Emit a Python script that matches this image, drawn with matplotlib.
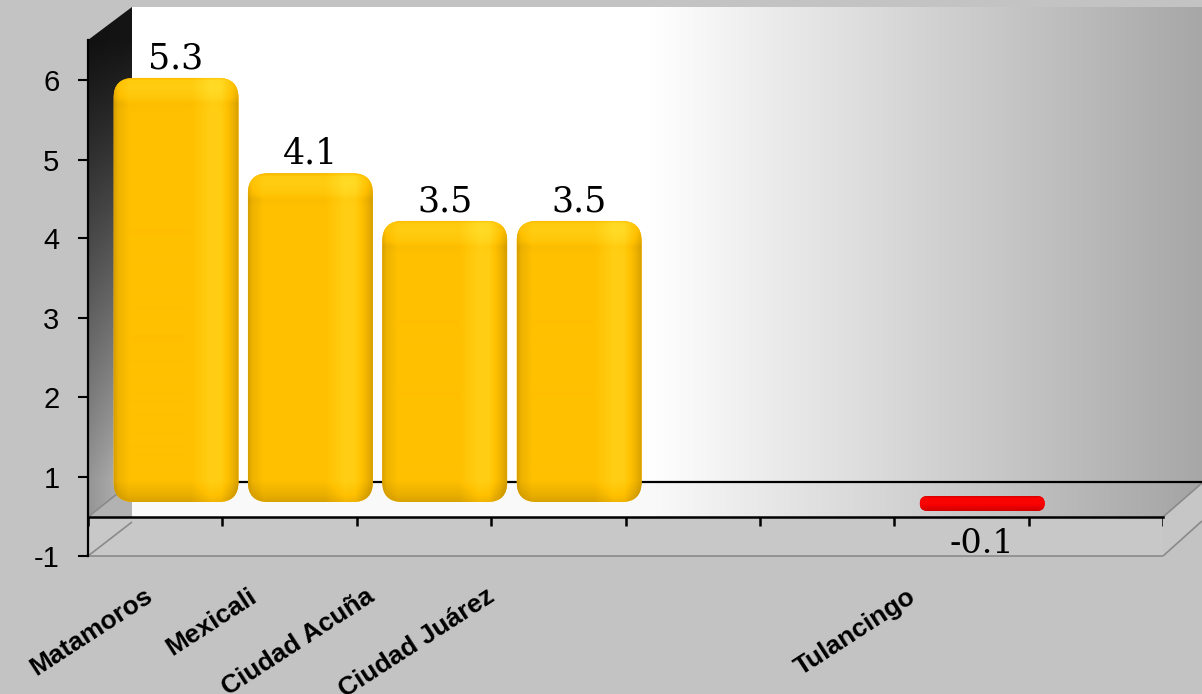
import numpy as np
import matplotlib
matplotlib.use("Agg")
import matplotlib.pyplot as plt
from matplotlib.patches import Polygon, FancyBboxPatch, Rectangle

# ---------------- data ----------------
categories = ["Matamoros", "Mexicali", "Ciudad Acuña", "Ciudad Juárez", "", "", "Tulancingo", ""]
values = [5.3, 4.1, 3.5, 3.5, None, None, -0.1, None]
value_labels = ["5.3", "4.1", "3.5", "3.5", "", "", "-0.1", ""]
ytick_labels = ["6", "5", "4", "3", "2", "1", "-1"]
ytick_values = [5.27, 4.27, 3.28, 2.28, 1.28, 0.28, -0.715]

# ---------------- style ----------------
W, H = 1202, 694
BG = "#c3c3c3"
label_nudge_px = [-5, -35, -52, -66, 0, 0, -48, 0]
PX_PER_Y = 79.44
ZERO_PX = 499
AX_TOP, AX_BOT, AX_LEFT, AX_RIGHT = 40, 556, 88, 1163

fig = plt.figure(figsize=(W / 100, H / 100), dpi=100)
fig.patch.set_facecolor(BG)

# background (3D frame) axes in pixel coordinates
bg = fig.add_axes([0, 0, 1, 1])
bg.set_xlim(0, W)
bg.set_ylim(H, 0)
bg.axis("off")
bg.set_zorder(0)


def wall_val(x):
    x = np.asarray(x, dtype=float)
    return np.where(x < 650, 255.0, 255.0 - (x - 650) / (W - 650) * 88)


# back wall
xs = np.arange(132, W + 1)
img = np.repeat(wall_val(xs)[None, :, None], 3, axis=2) / 255.0
wall_poly = Polygon([(132, 7), (W, 7), (W, 482), (132, 482)], closed=True, fc="none", ec="none")
bg.add_patch(wall_poly)
im = bg.imshow(img, extent=(132, W, 482, 7), aspect="auto", interpolation="bilinear", zorder=1)
im.set_clip_path(wall_poly)

# floor top
xs = np.arange(88, W + 1)
img = np.repeat(wall_val(xs)[None, :, None], 3, axis=2) / 255.0 * 0.98
floor_poly = Polygon([(88, 517), (132, 482), (W, 482), (1163, 517)], closed=True, fc="none", ec="none")
bg.add_patch(floor_poly)
im = bg.imshow(img, extent=(88, W, 517, 482), aspect="auto", interpolation="bilinear", zorder=1)
im.set_clip_path(floor_poly)

# left wall (dark gradient)
hy = np.linspace(0, 1, 300)[:, None]
hx = np.linspace(0, 1, 40)[None, :]
val = 20 + 155 * np.clip((hy * 510 - 33) / 440, 0, 1) ** 1.1
val = val * (0.85 + 0.2 * hx)
img = np.repeat(np.clip(val, 0, 255)[:, :, None], 3, axis=2) / 255.0
lw_poly = Polygon([(88, 40), (132, 7), (132, 482), (88, 517)], closed=True, fc="none", ec="none")
bg.add_patch(lw_poly)
im = bg.imshow(img, extent=(88, 132, 517, 7), aspect="auto", interpolation="bilinear", zorder=1)
im.set_clip_path(lw_poly)

# floor left side & front faces
bg.add_patch(Polygon([(88, 517), (132, 482), (132, 522), (88, 556)], closed=True,
                     fc="#b2b2b2", ec="none", zorder=2))
bg.add_patch(Rectangle((88, 517), 1163 - 88, 556 - 517, fc="#c8c8c8", ec="none", zorder=2))
bg.add_patch(Polygon([(1163, 517), (W, 483), (W, 520), (1163, 556)], closed=True,
                     fc="#c6c6c6", ec="none", zorder=2))
grey = "#8a8a8a"
for (xa, ya), (xb, yb) in [((88, 556), (1163, 556)), ((1163, 556), (W, 521)),
                           ((1163, 517), (W, 483)), ((88, 517), (132, 482)),
                           ((88, 556), (132, 522))]:
    bg.plot([xa, xb], [ya, yb], color=grey, lw=1.2, zorder=3, solid_capstyle="butt")

# black edges
bg.plot([132, W], [482, 482], color="black", lw=1.6, zorder=3)
bg.plot([88, 1163], [517, 517], color="black", lw=1.8, zorder=3)

# ---------------- data axes ----------------
ax = fig.add_axes([AX_LEFT / W, 1 - AX_BOT / H, (AX_RIGHT - AX_LEFT) / W, (AX_BOT - AX_TOP) / H])
ax.set_zorder(2)
ax.patch.set_alpha(0)
n = len(categories)
YLIM = ((ZERO_PX - AX_BOT) / PX_PER_Y, (ZERO_PX - AX_TOP) / PX_PER_Y)
ax.set_xlim(-0.5, n - 0.5)
ax.set_ylim(*YLIM)
for s in ["top", "right", "bottom"]:
    ax.spines[s].set_visible(False)
ax.spines["left"].set_linewidth(1.6)
ax.spines["left"].set_color("black")
ax.set_xticks([])
ax.set_yticks(ytick_values)
ax.set_yticklabels(ytick_labels, fontsize=21, family="Liberation Sans")
ax.tick_params(axis="y", length=7.5, width=1.5, pad=13, colors="black")

# slot boundary ticks on the front floor edge
y_edge = (ZERO_PX - 517) / PX_PER_Y
y_tick_end = (ZERO_PX - 526) / PX_PER_Y
ax.vlines(np.arange(n + 1) - 0.5, y_tick_end, y_edge, color="black", lw=1.8, zorder=3)

x_px = (AX_RIGHT - AX_LEFT) / n  # pixels per x unit
asp = (1 / PX_PER_Y) / (1 / x_px)
bar_w = 0.93
bar_shift = 0.155


def shade(h, w, base, light, dark, hstops, hvals, vfunc):
    u = np.linspace(0, 1, w)
    hp = np.interp(u, hstops, hvals)[None, :]
    vp = vfunc(np.arange(h), h)[:, None]
    v = hp + vp
    base = np.array(base, float)[None, None, :]
    light = np.array(light, float)[None, None, :]
    dark = np.array(dark, float)[None, None, :]
    vv = v[:, :, None]
    out = np.where(vv > 0, base + vv * (light - base), base + (-vv) * (dark - base))
    return np.clip(out / 255.0, 0, 1)


def yellow_v(v, h):
    out = np.zeros_like(v, dtype=float)
    out += np.interp(v, [0, 3, 10, 20, 26, 34], [-0.2, 0.25, 0.3, 0.15, -0.05, 0])
    out += np.interp(v, [h - 22, h - 8, h], [0, -0.3, -0.55])
    return out


def red_v(v, h):
    return np.interp(v, [0, 2, h * 0.45, h - 3, h], [-0.35, 0.05, 0.1, -0.35, -0.5])


for i, v in enumerate(values):
    if v is None:
        continue
    xc = i + bar_shift
    x0 = xc - bar_w / 2
    if v > 0:
        y0, y1 = -3 / PX_PER_Y, v
        r_px = 20
        base, light, dark = (255, 192, 0), (255, 235, 60), (185, 135, 0)
        hs = [0, 0.03, 0.12, 0.62, 0.78, 0.86, 0.95, 1.0]
        hv = [-0.55, -0.25, 0, 0, 0.35, 0.3, -0.2, -0.55]
        vf = yellow_v
    else:
        y0, y1 = v - 4 / PX_PER_Y, 3 / PX_PER_Y
        r_px = (y1 - y0) * PX_PER_Y / 2
        base, light, dark = (250, 0, 0), (255, 40, 40), (170, 0, 0)
        hs, hv = [0, 1], [0, 0]
        vf = red_v
    r = r_px / x_px
    patch = FancyBboxPatch((x0, y0), bar_w, y1 - y0,
                           boxstyle=f"round,pad=0,rounding_size={r}",
                           mutation_aspect=asp, fc="#%02x%02x%02x" % base, ec="none", zorder=4)
    ax.add_patch(patch)
    hpx = max(int(round((y1 - y0) * PX_PER_Y)), 2)
    wpx = int(round(bar_w * x_px))
    img = shade(hpx, wpx, base, light, dark, hs, hv, vf)
    im = ax.imshow(img, extent=(x0, x0 + bar_w, y0, y1), aspect="auto", origin="upper",
                   interpolation="bilinear", zorder=5)
    im.set_clip_path(patch)
    # value label
    if v > 0:
        ax.annotate(value_labels[i], xy=(xc, v), xytext=(0, 2), textcoords="offset points",
                    ha="center", va="bottom", fontsize=25, family="DejaVu Serif", zorder=6)
    else:
        ax.annotate(value_labels[i], xy=(xc, v), xytext=(0, -15), textcoords="offset points",
                    ha="center", va="top", fontsize=24, family="DejaVu Serif", zorder=6)

ax.set_xlim(-0.5, n - 0.5)
ax.set_ylim(*YLIM)

# category labels
for i, cat in enumerate(categories):
    if not cat:
        continue
    ax.annotate(cat, xy=(i, 0), xycoords=("data", "axes fraction"),
                xytext=(label_nudge_px[i] * 0.72, -38 * 0.72), textcoords="offset points",
                rotation=33, rotation_mode="anchor", ha="right", va="center",
                fontsize=19, fontweight="bold", family="Liberation Sans", annotation_clip=False)

fig.savefig("out.png", dpi=100, facecolor=BG)
